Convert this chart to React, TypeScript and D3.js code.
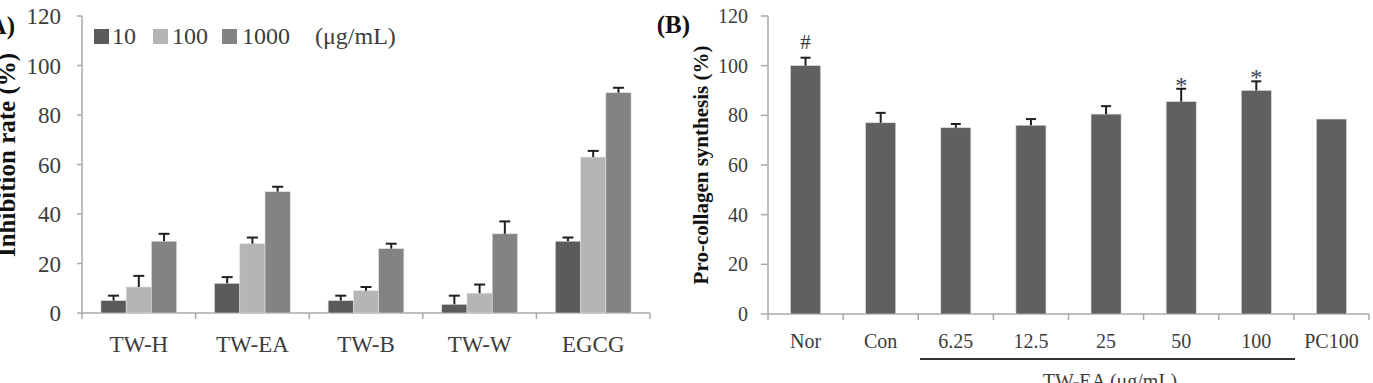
import * as d3 from "d3";

// (A) inhibition rate by extract and concentration
const groupsA = ["TW-H", "TW-EA", "TW-B", "TW-W", "EGCG"];
const dosesA = ["10", "100", "1000"];
const mean10 = [5, 12, 5, 3.5, 29];
const mean100 = [10.5, 28, 9, 8, 63];
const mean1000 = [29, 49, 26, 32, 89];
const sd10 = [2, 2.5, 2, 3.5, 1.5];
const sd100 = [4.5, 2.5, 1.5, 3.5, 2.5];
const sd1000 = [3, 2, 2, 5, 2];
const doseColors = ["#5b5b5b", "#b5b5b5", "#838383"];

// (B) pro-collagen synthesis
const groupsB = ["Nor", "Con", "6.25", "12.5", "25", "50", "100", "PC100"];
const meanB = [100, 77, 75, 76, 80.5, 85.5, 90, 78.5];
const sdB = [3.2, 4, 1.5, 2.5, 3.2, 5.2, 3.7, 0];
const markB = ["#", "", "", "", "", "*", "*", ""];

const yTicks = [0, 20, 40, 60, 80, 100, 120];

const W = 1373;
const H = 383;
const serif = "'Liberation Serif', 'Times New Roman', serif";
const axisColor = "#a9a9a9";
const textColor = "#3c3c3c";

function ErrorBar({ x, y0, y1, cap }: { x: number; y0: number; y1: number; cap: number }) {
    return (
        <g stroke="#1f1f1f" strokeWidth={2}>
            <line x1={x} x2={x} y1={y0} y2={y1} />
            <line x1={x - cap / 2} x2={x + cap / 2} y1={y1} y2={y1} />
        </g>
    );
}

function PanelA() {
    const x = d3.scaleBand().domain(groupsA).range([82, 650]);
    const xs = d3.scaleBand().domain(dosesA).range([0, x.step()]).paddingOuter(0.75);
    const y = d3.scaleLinear().domain([0, 120]).range([313, 16]);
    const means = [mean10, mean100, mean1000];
    const sds = [sd10, sd100, sd1000];
    const bounds = d3.range(groupsA.length + 1).map((i) => 82 + i * x.step());

    return (
        <g>
            {/* axes */}
            <line x1={82} x2={82} y1={y(120)} y2={y(0)} stroke={axisColor} strokeWidth={1.5} />
            {yTicks.map((t) => (
                <g key={t}>
                    <line x1={77} x2={82} y1={y(t)} y2={y(t)} stroke={axisColor} strokeWidth={1.5} />
                    <text x={61} y={y(t)} dy="0.35em" textAnchor="end" fontSize={23} fill={textColor}>
                        {t}
                    </text>
                </g>
            ))}
            <line x1={82} x2={650} y1={y(0)} y2={y(0)} stroke={axisColor} strokeWidth={1.5} />
            {bounds.map((b, i) => (
                <line key={i} x1={b} x2={b} y1={y(0)} y2={y(0) + 6} stroke={axisColor} strokeWidth={1.5} />
            ))}
            {groupsA.map((g) => (
                <text key={g} x={x(g)! + x.bandwidth() / 2} y={352} textAnchor="middle" fontSize={23} fill={textColor}>
                    {g}
                </text>
            ))}

            {/* bars */}
            {groupsA.map((g, gi) =>
                dosesA.map((d, di) => {
                    const bx = x(g)! + xs(d)!;
                    const v = means[di][gi];
                    const e = sds[di][gi];
                    return (
                        <g key={g + d}>
                            <rect
                                x={bx}
                                y={y(v)}
                                width={xs.bandwidth()}
                                height={y(0) - y(v)}
                                fill={doseColors[di]}
                                stroke="#e0e0e0"
                                strokeWidth={0.6}
                            />
                            {e > 0 && <ErrorBar x={bx + xs.bandwidth() / 2} y0={y(v)} y1={y(v + e)} cap={11} />}
                        </g>
                    );
                })
            )}

            {/* legend */}
            {[
                { x: 94, tx: 112 },
                { x: 153, tx: 172 },
                { x: 222, tx: 242 },
            ].map((p, i) => (
                <g key={i}>
                    <rect x={p.x} y={29} width={15} height={15} fill={doseColors[i]} />
                    <text x={p.tx} y={44} fontSize={24} fill={textColor}>
                        {dosesA[i]}
                    </text>
                </g>
            ))}
            <text x={315} y={44} fontSize={24} fill={textColor}>
                (μg/mL)
            </text>

            {/* titles */}
            <text x={15} y={34} textAnchor="end" fontSize={25} fontWeight="bold" fill="#111">
                (A)
            </text>
            <text
                transform={`translate(15,${155}) rotate(-90)`}
                textAnchor="middle"
                fontSize={25}
                fontWeight="bold"
                fill="#111"
            >
                Inhibition rate (%)
            </text>
        </g>
    );
}

function PanelB() {
    const x = d3.scaleBand().domain(groupsB).range([768, 1369]).paddingInner(0.6).paddingOuter(0.3);
    const y = d3.scaleLinear().domain([0, 120]).range([314, 16]);
    const step = (1369 - 768) / groupsB.length;
    const bounds = d3.range(groupsB.length + 1).map((i) => 768 + i * step);

    return (
        <g>
            <line x1={768} x2={768} y1={y(120)} y2={y(0)} stroke={axisColor} strokeWidth={1.5} />
            {yTicks.map((t) => (
                <g key={t}>
                    <line x1={761} x2={768} y1={y(t)} y2={y(t)} stroke={axisColor} strokeWidth={1.5} />
                    <text x={748} y={y(t)} dy="0.35em" textAnchor="end" fontSize={20} fill={textColor}>
                        {t}
                    </text>
                </g>
            ))}
            <line x1={768} x2={1369} y1={y(0)} y2={y(0)} stroke={axisColor} strokeWidth={1.5} />
            {bounds.map((b, i) => (
                <line key={i} x1={b} x2={b} y1={y(0)} y2={y(0) + 6} stroke={axisColor} strokeWidth={1.5} />
            ))}
            {groupsB.map((g) => (
                <text key={g} x={x(g)! + x.bandwidth() / 2} y={348} textAnchor="middle" fontSize={20} fill={textColor}>
                    {g}
                </text>
            ))}

            {groupsB.map((g, i) => {
                const cx = x(g)! + x.bandwidth() / 2;
                const top = y(meanB[i] + sdB[i]);
                return (
                    <g key={g}>
                        <rect
                            x={x(g)!}
                            y={y(meanB[i])}
                            width={x.bandwidth()}
                            height={y(0) - y(meanB[i])}
                            fill="#606060"
                            stroke="#d8d8d8"
                            strokeWidth={0.6}
                        />
                        {sdB[i] > 0 && <ErrorBar x={cx} y0={y(meanB[i])} y1={top} cap={10} />}
                        {markB[i] === "#" && (
                            <text x={cx} y={top - 9} textAnchor="middle" fontSize={21} fill={textColor}>
                                #
                            </text>
                        )}
                        {markB[i] === "*" && (
                            <text x={cx} y={top + 4} textAnchor="middle" fontSize={24} fill="#3a3f55">
                                *
                            </text>
                        )}
                    </g>
                );
            })}

            {/* TW-EA dose bracket */}
            <line x1={920} x2={1295} y1={359} y2={359} stroke="#333" strokeWidth={2} />
            <text x={1110} y={388} textAnchor="middle" fontSize={20} fill={textColor}>
                TW-EA (μg/mL)
            </text>

            <text x={690} y={33} textAnchor="end" fontSize={25} fontWeight="bold" fill="#111">
                (B)
            </text>
            <text
                transform={`translate(708,${165}) rotate(-90)`}
                textAnchor="middle"
                fontSize={21}
                fontWeight="bold"
                fill="#111"
            >
                Pro-collagen synthesis (%)
            </text>
        </g>
    );
}

export default function App() {
    return (
        <svg
            width={W}
            height={H}
            viewBox={`0 0 ${W} ${H}`}
            style={{ position: "absolute", left: 0, top: 0, background: "#fff" }}
            fontFamily={serif}
        >
            <PanelA />
            <PanelB />
        </svg>
    );
}
